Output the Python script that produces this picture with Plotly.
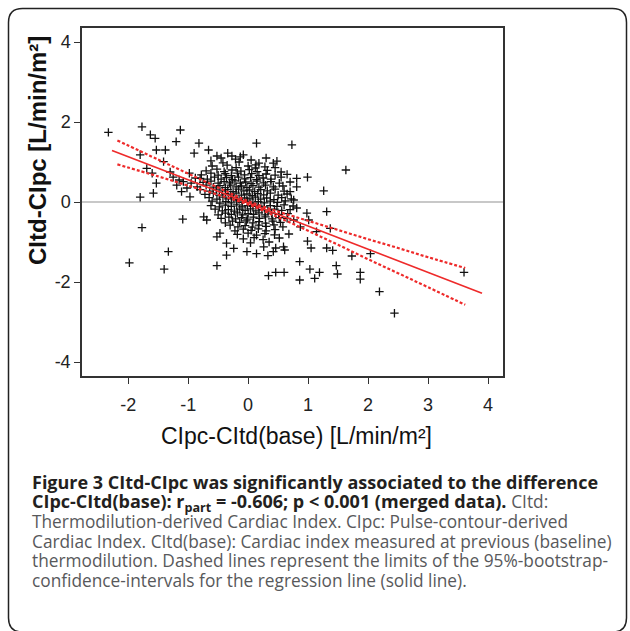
import plotly.graph_objects as go

# ---------------- data ----------------
outliers_left = [(-2.33, 1.74), (-1.77, 1.88), (-1.63, 1.68), (-1.55, 1.59), (-1.13, 1.80),
                 (-1.20, 1.51), (-1.53, 1.30), (-1.38, 1.30), (-1.80, 1.18), (-1.41, 1.01),
                 (-1.69, 0.84), (-1.60, 0.72), (-1.53, 0.47), (-1.58, 0.22), (-1.80, 0.12),
                 (-1.77, -0.64), (-1.09, -0.43), (-0.82, 1.47), (-0.90, 1.22), (-0.66, 1.30),
                 (-1.33, -1.24), (-1.98, -1.52), (-1.40, -1.68), (-0.52, -1.59),
                 (-1.25, 0.62), (-1.15, 0.55), (-1.02, 0.35), (-0.95, 0.47), (-1.30, 0.75),
                 (-0.98, 0.72), (-1.08, 0.51), (-1.19, 0.42), (-1.11, 0.26), (-0.97, 0.13),
                 (-0.80, 0.59), (-0.74, -0.37), (-0.69, -0.45), (-0.52, -0.87), (-0.47, -0.78),
                 (-0.36, -1.03), (-0.24, -1.16), (-0.36, -1.33), (-0.62, 1.03), (-0.52, 1.15),
                 (-0.34, 1.22), (-0.27, 1.15), (-0.21, 1.07), (-0.13, 1.13)]

outliers_right = [(0.14, 1.47), (0.73, 1.43), (0.42, 0.97), (0.13, 0.93), (1.63, 0.80),
                  (1.26, 0.28), (0.99, 0.62), (0.81, 0.59), (1.31, -0.24), (0.81, -0.15),
                  (0.98, -0.28), (0.76, -0.45), (0.87, -0.62), (0.81, 0.38), (0.76, 0.05),
                  (0.70, 0.26), (1.14, -0.74), (1.01, -0.45), (-0.02, -1.24), (0.26, -1.12),
                  (0.42, -1.24), (0.59, -1.12), (0.34, -1.84), (0.46, -1.76), (0.60, -1.76),
                  (0.86, -1.49), (0.86, -1.95), (1.03, -1.68), (1.11, -1.91), (1.19, -1.76),
                  (1.47, -1.59), (1.49, -1.80), (1.87, -1.76), (1.87, -1.93), (2.19, -2.24),
                  (2.44, -2.78), (3.60, -1.76), (1.31, -1.15), (1.41, -1.21), (1.73, -1.35),
                  (2.04, -1.29), (1.37, -0.66), (1.05, -1.15), (0.99, -0.98), (0.61, -1.20),
                  (0.46, -1.15), (0.14, -1.29), (0.33, -1.34)]

cloud_upper = [(-0.45, 1.10), (-0.08, 1.18), (0.05, 1.05), (0.30, 1.10),
               (-0.42, 0.98), (-0.15, 1.00), (0.18, 0.97), (0.48, 1.02),
               (-0.60, 0.90), (-0.35, 0.92), (-0.20, 0.86), (0.00, 0.90), (0.12, 0.85), (0.28, 0.88), (0.45, 0.86),
               (-0.70, 0.78), (-0.52, 0.82), (-0.40, 0.76), (-0.27, 0.80), (-0.12, 0.77), (0.02, 0.81), (0.15, 0.76),
               (0.32, 0.79), (0.55, 0.75),
               (-0.78, 0.68), (-0.62, 0.72), (-0.50, 0.67), (-0.38, 0.71), (-0.28, 0.66), (-0.18, 0.72), (-0.06, 0.68),
               (0.06, 0.71), (0.18, 0.66), (0.30, 0.70), (0.45, 0.67), (0.65, 0.69),
               (-0.88, 0.60), (-0.68, 0.57), (-0.56, 0.62), (-0.45, 0.57), (-0.36, 0.61), (-0.26, 0.56), (-0.16, 0.62),
               (-0.06, 0.58), (0.04, 0.61), (0.14, 0.56), (0.25, 0.60), (0.38, 0.57), (0.55, 0.62)]

cloud_middle = [(-0.75, 0.49), (-0.62, 0.52), (-0.50, 0.47), (-0.40, 0.51), (-0.31, 0.48), (-0.22, 0.53), (-0.13, 0.47),
                (-0.04, 0.50), (0.05, 0.46), (0.15, 0.52), (0.26, 0.48), (0.38, 0.51), (0.52, 0.47), (0.70, 0.50),
                (-0.85, 0.38), (-0.70, 0.42), (-0.58, 0.37), (-0.47, 0.41), (-0.38, 0.36), (-0.29, 0.42), (-0.20, 0.38),
                (-0.11, 0.40), (-0.02, 0.36), (0.08, 0.41), (0.18, 0.37), (0.29, 0.42), (0.42, 0.38), (0.58, 0.40),
                (-0.80, 0.31), (-0.64, 0.27), (-0.53, 0.32), (-0.43, 0.28), (-0.34, 0.31), (-0.25, 0.26), (-0.16, 0.32),
                (-0.07, 0.28), (0.02, 0.30), (0.11, 0.26), (0.21, 0.31), (0.32, 0.28), (0.45, 0.32), (0.60, 0.27),
                (-0.72, 0.19), (-0.58, 0.22), (-0.48, 0.17), (-0.38, 0.21), (-0.29, 0.18), (-0.20, 0.22), (-0.11, 0.17),
                (-0.02, 0.20), (0.07, 0.16), (0.16, 0.21), (0.26, 0.18), (0.37, 0.22), (0.50, 0.17), (0.65, 0.20),
                (-0.65, 0.11), (-0.52, 0.07), (-0.42, 0.12), (-0.33, 0.08), (-0.24, 0.11), (-0.15, 0.06), (-0.06, 0.10),
                (0.03, 0.08), (0.12, 0.12), (0.21, 0.07), (0.31, 0.10), (0.43, 0.06), (0.56, 0.11), (0.72, 0.08),
                (-0.60, 0.02), (-0.47, -0.03), (-0.37, 0.01), (-0.28, -0.02), (-0.19, 0.03), (-0.10, -0.01), (-0.01, 0.02),
                (0.08, -0.03), (0.17, 0.01), (0.27, -0.02), (0.37, 0.02), (0.49, -0.01), (0.62, 0.03)]

cloud_lower = [(-0.62, -0.09), (-0.48, -0.12), (-0.38, -0.08), (-0.28, -0.11), (-0.19, -0.07), (-0.10, -0.12), (-0.01, -0.09),
               (0.08, -0.11), (0.17, -0.08), (0.27, -0.12), (0.37, -0.09), (0.48, -0.11), (0.60, -0.07), (0.75, -0.10),
               (-0.55, -0.18), (-0.43, -0.22), (-0.33, -0.19), (-0.23, -0.23), (-0.14, -0.18), (-0.05, -0.21), (0.04, -0.17),
               (0.13, -0.22), (0.23, -0.19), (0.33, -0.23), (0.44, -0.18), (0.56, -0.21), (0.70, -0.19),
               (-0.50, -0.32), (-0.38, -0.28), (-0.28, -0.31), (-0.18, -0.27), (-0.09, -0.32), (0.00, -0.29), (0.09, -0.31),
               (0.18, -0.27), (0.28, -0.32), (0.39, -0.28), (0.51, -0.31), (0.66, -0.29),
               (-0.45, -0.41), (-0.32, -0.38), (-0.21, -0.42), (-0.11, -0.39), (-0.01, -0.43), (0.09, -0.38), (0.19, -0.41),
               (0.29, -0.37), (0.40, -0.42), (0.52, -0.39), (0.65, -0.41),
               (-0.38, -0.52), (-0.26, -0.48), (-0.14, -0.51), (-0.03, -0.47), (0.08, -0.52), (0.18, -0.49), (0.29, -0.53),
               (0.41, -0.48), (0.54, -0.51),
               (-0.30, -0.58), (-0.17, -0.62), (-0.05, -0.59), (0.07, -0.63), (0.18, -0.58), (0.30, -0.61), (0.43, -0.57),
               (0.58, -0.62),
               (-0.22, -0.72), (-0.08, -0.68), (0.05, -0.71), (0.17, -0.67), (0.30, -0.72), (0.45, -0.69),
               (-0.18, -0.81), (0.00, -0.78), (0.14, -0.83), (0.28, -0.79), (0.44, -0.82), (0.68, -0.80),
               (-0.08, -0.92), (0.10, -0.89), (0.25, -0.94), (0.52, -0.90),
               (0.04, -1.02), (0.35, -1.00)]

reg_x = [-2.27, 3.90]
reg_y = [1.29, -2.28]

ci_x = [-2.18, -1.5, -1.0, -0.5, 0.0, 0.5, 1.0, 1.5, 2.0, 2.5, 3.0, 3.62]
ci_upper = [1.54, 1.06, 0.71, 0.36, 0.02, -0.24, -0.47, -0.70, -0.93, -1.15, -1.38, -1.65]
ci_lower = [0.94, 0.64, 0.41, 0.18, -0.06, -0.38, -0.72, -1.07, -1.43, -1.78, -2.13, -2.57]

x_ticks = [-2, -1, 0, 1, 2, 3, 4]
x_tick_text = ["-2", "-1", "0", "1", "2", "3", "4"]
y_ticks = [-4, -2, 0, 2, 4]
y_tick_text = ["-4", "-2", "0", "2", "4"]

x_title = "CIpc-CItd(base) [L/min/m²]"
y_title = "<b>CItd-CIpc [L/min/m²]</b>"

GRAY = "#58595b"
caption_lines = [
    ("<b>Figure 3 CItd-CIpc was significantly associated to the difference</b>", 18),
    ("<b>CIpc-CItd(base): r<sub>part</sub> = -0.606; p &lt; 0.001 (merged data).</b> "
     f"<span style='color:{GRAY};font-size:17.3px'>CItd:</span>", 18),
    (f"<span style='color:{GRAY}'>Thermodilution-derived Cardiac Index. CIpc: Pulse-contour-derived</span>", 17.3),
    (f"<span style='color:{GRAY}'>Cardiac Index. CItd(base): Cardiac index measured at previous (baseline)</span>", 17.3),
    (f"<span style='color:{GRAY}'>thermodilution. Dashed lines represent the limits of the 95%-bootstrap-</span>", 17.3),
    (f"<span style='color:{GRAY}'>confidence-intervals for the regression line (solid line).</span>", 17.3),
]

# ---------------- figure ----------------
W, H = 630, 631
L, R, T, B = 82, 503, 28, 376  # plot area in px


def px_x(p):
    return (p - L) / (R - L)


def px_y(p):
    return (B - p) / (B - T)


all_pts = outliers_left + outliers_right + cloud_upper + cloud_middle + cloud_lower
pts_x = [p[0] for p in all_pts]
pts_y = [p[1] for p in all_pts]

fig = go.Figure()
fig.add_trace(go.Scatter(
    x=pts_x, y=pts_y, mode="markers",
    marker=dict(symbol="cross-thin", size=6, color="#111111",
                line=dict(color="#111111", width=1.3)),
    hoverinfo="skip"))
fig.add_trace(go.Scatter(x=ci_x, y=ci_upper, mode="lines",
                         line=dict(color="#ee2a2a", width=2.2, dash="3px,2px", shape="spline")))
fig.add_trace(go.Scatter(x=ci_x, y=ci_lower, mode="lines",
                         line=dict(color="#ee2a2a", width=2.2, dash="3px,2px", shape="spline")))
fig.add_trace(go.Scatter(x=reg_x, y=reg_y, mode="lines",
                         line=dict(color="#ee2a2a", width=1.6)))

axis_common = dict(showgrid=False, showline=True, linecolor="#333333", linewidth=1.5,
                   mirror=True, ticks="outside", ticklen=6, tickwidth=1.3, tickcolor="#333333",
                   tickfont=dict(family="Liberation Sans", size=18, color="#222222"))

fig.update_layout(
    width=W, height=H,
    margin=dict(l=L, r=W - R, t=T, b=H - B, pad=0),
    paper_bgcolor="white", plot_bgcolor="white",
    showlegend=False,
    xaxis=dict(range=[-2.77, 4.25], tickvals=x_ticks, ticktext=x_tick_text,
               zeroline=False, ticklabelstandoff=6, **axis_common),
    yaxis=dict(range=[-4.35, 4.35], tickvals=y_ticks, ticktext=y_tick_text,
               zeroline=True, zerolinecolor="#c8c8c8", zerolinewidth=2, **axis_common),
)

annotations = [
    dict(text=x_title, x=px_x(296), y=px_y(436), xref="paper", yref="paper",
         xanchor="center", yanchor="middle", showarrow=False,
         font=dict(family="Liberation Sans", size=23, color="#111111")),
    dict(text=y_title, x=px_x(37), y=px_y(151), xref="paper", yref="paper",
         xanchor="center", yanchor="middle", showarrow=False, textangle=-90,
         font=dict(family="Liberation Sans", size=24, color="#111111")),
]
line_y = [482, 502, 521.5, 541, 560.5, 580]
for (txt, size), yy in zip(caption_lines, line_y):
    annotations.append(dict(text=txt, x=px_x(30), y=px_y(yy), xref="paper", yref="paper",
                            xanchor="left", yanchor="middle", showarrow=False, align="left",
                            font=dict(family="Open Sans", size=size, color="#231f20")))
fig.update_layout(annotations=annotations)

# rounded card border
lx, rx_, ty, by = px_x(8.5), px_x(626.5), px_y(8.5), px_y(632)
rr_x, rr_y = 14 / (R - L), 14 / (B - T)
path = (f"M {lx},{by + rr_y} L {lx},{ty - rr_y} Q {lx},{ty} {lx + rr_x},{ty} "
        f"L {rx_ - rr_x},{ty} Q {rx_},{ty} {rx_},{ty - rr_y} L {rx_},{by + rr_y} "
        f"Q {rx_},{by} {rx_ - rr_x},{by} L {lx + rr_x},{by} Q {lx},{by} {lx},{by + rr_y} Z")
fig.add_shape(type="path", path=path, xref="paper", yref="paper",
              line=dict(color="#222222", width=1.5), layer="below")

fig.write_html("out.html", config={"displayModeBar": False},
               post_script="document.body.style.margin='0px';")
